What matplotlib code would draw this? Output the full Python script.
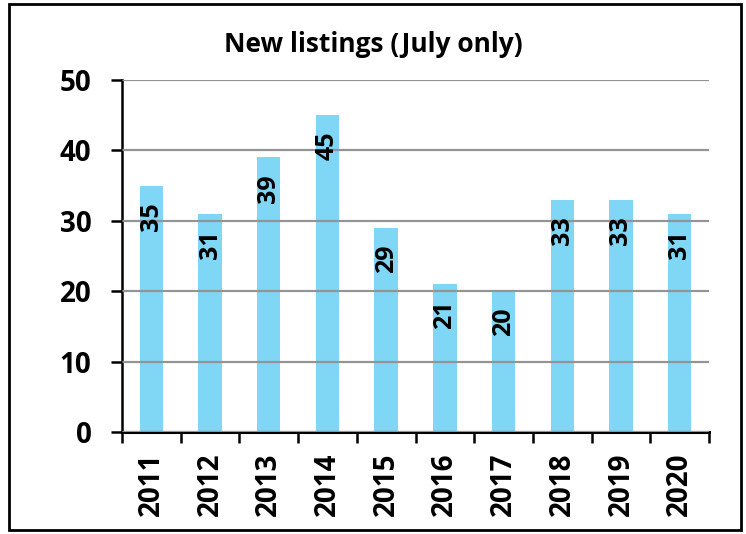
import matplotlib
matplotlib.use("Agg")
import matplotlib.pyplot as plt
from matplotlib.patches import Rectangle

years = ["2011", "2012", "2013", "2014", "2015", "2016", "2017", "2018", "2019", "2020"]
listings = [35, 31, 39, 45, 29, 21, 20, 33, 33, 31]
title = "New listings (July only)"

plt.rcParams['font.family'] = ['Open Sans', 'DejaVu Sans']
fig = plt.figure(figsize=(7.46, 5.34), dpi=100)
ax = fig.add_axes([122/746, 1-432/534, (709-122)/746, (432-80)/534])

x = list(range(len(years)))
bars = ax.bar(x, listings, width=0.4, color="#7fd6f5", zorder=1)
for xi, v in zip(x, listings):
    ax.annotate(str(v), (xi, v), xytext=(0, -12), textcoords="offset points",
                rotation=90, ha="center", va="top", fontsize=18, fontweight="bold", zorder=3)

ax.set_xlim(-0.5, len(years) - 0.5)
ax.set_ylim(0, 50)
ax.set_yticks(range(0, 51, 10))
ax.set_axisbelow(False)
ax.yaxis.grid(True, color="#949494", linewidth=1.6)
ax.tick_params(axis="y", labelsize=20, width=1.8, length=8, direction="out", pad=14)
for lab in ax.get_yticklabels():
    lab.set_fontweight("bold")

ax.set_xticks(x)
ax.set_xticklabels(years, rotation=90, fontsize=20, fontweight="bold")
ax.tick_params(axis="x", length=0, pad=15)
ax.set_xticks([i - 0.5 for i in range(len(years) + 1)], minor=True)
ax.tick_params(axis="x", which="minor", length=8, width=1.8, direction="out")

for s in ["top", "right"]:
    ax.spines[s].set_visible(False)
ax.spines["left"].set_linewidth(1.8)
ax.spines["bottom"].set_linewidth(2.2)

fig.text(373/746, 1-45/534, title, ha="center", va="center", fontsize=19, fontweight="bold")
fig.patches.append(Rectangle((9/746, 4/534), 732/746, 526/534, transform=fig.transFigure,
                             fill=False, edgecolor="black", linewidth=2))

fig.savefig("out.png", dpi=100)
